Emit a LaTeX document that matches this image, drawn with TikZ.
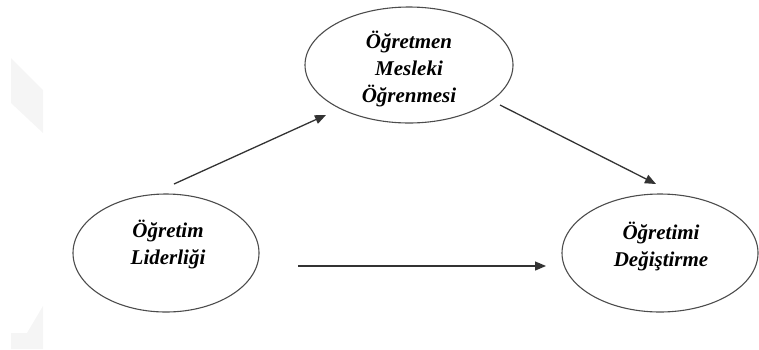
\documentclass[tikz,border=0pt]{standalone}
\usepackage{fontspec}
\setmainfont{Liberation Serif}
\usetikzlibrary{shapes.geometric,arrows.meta}
\begin{document}
\begin{tikzpicture}[x=1pt,y=-1pt,
  oval/.style={draw=black!70,line width=1.1pt},
  lbl/.style={font=\fontsize{21}{27}\selectfont\bfseries\itshape,align=center,text=black},
  arr/.style={draw=black!80,line width=1.3pt,-{Triangle[length=11pt,width=9pt]}},
  wm/.style={fill=black!4,draw=none}]
\useasboundingbox (0,0) rectangle (759,349);
\fill[wm] (11,58) -- (43,90) -- (43,133) -- (11,103) -- cycle;
\fill[wm] (11,349) -- (11,333) -- (27,333) -- (43,306) -- (43,349) -- cycle;
\draw[oval] (409,65) ellipse [x radius=104, y radius=58];
\draw[oval] (166,253) ellipse [x radius=93, y radius=59];
\draw[oval] (660,253) ellipse [x radius=98, y radius=59];
\node[lbl] (top) at (409,69) {Öğretmen\\Mesleki\\Öğrenmesi};
\node[lbl] (left) at (168,244) {Öğretim\\Liderliği};
\node[lbl] (right) at (661,246) {Öğretimi\\Değiştirme};
\coordinate (a1) at (174,184);
\coordinate (a2) at (326,115);
\coordinate (b1) at (500,105);
\coordinate (b2) at (656,184);
\coordinate (c1) at (298,266);
\coordinate (c2) at (546,266);
\draw[arr] (a1) -- (a2);
\draw[arr] (b1) -- (b2);
\draw[arr] (c1) -- (c2);
\end{tikzpicture}
\end{document}
